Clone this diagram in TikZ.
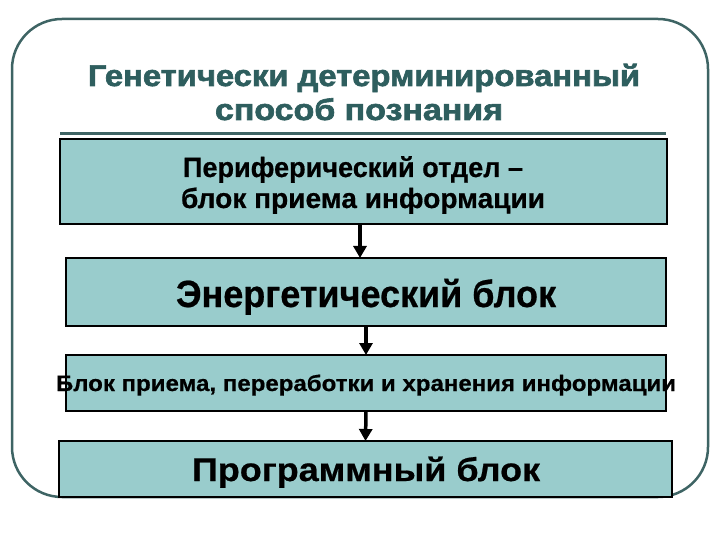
\documentclass[tikz,border=0pt]{standalone}
\usepackage{fontspec}
\setmainfont{Liberation Sans}
\newfontfamily\ttlfont[FakeBold=2]{Liberation Sans Bold}
\newfontfamily\blkfont[FakeBold=0.6]{Liberation Sans Bold}
\usepackage{graphicx}
\usetikzlibrary{arrows.meta}
\definecolor{titlecol}{HTML}{2E5E5E}
\definecolor{framecol}{HTML}{3E6464}
\definecolor{boxfill}{HTML}{99CCCC}
\newcommand\fitw[2]{\resizebox{#1bp}{\height}{#2}}
\tikzset{
  frame/.style={draw=framecol, line width=2.5bp, rounded corners=50bp},
  blockbox/.style={draw=black, line width=1.2bp, fill=boxfill, inner sep=0pt, outer sep=0pt},
  txt/.style={anchor=base, inner sep=0pt},
  arr/.style={line width=3.5bp, -{Triangle[width=13bp,length=12bp]}},
}
\begin{document}
\begin{tikzpicture}[x=1bp,y=-1bp]
\useasboundingbox (0,0) rectangle (720,540);
\fill[white] (0,0) rectangle (720,540);
% outer frame
\draw[frame] (12,19) rectangle (708,497);
% title
\node[txt, text=titlecol, font=\ttlfont\fontsize{30}{32}\selectfont] (t1) at (364,86) {\fitw{552}{Генетически детерминированный}};
\node[txt, text=titlecol, font=\ttlfont\fontsize{30}{32}\selectfont] (t2) at (359,120) {\fitw{288}{способ познания}};
\coordinate (ulA) at (60,134);
\coordinate (ulB) at (666,134);
\draw[framecol, line width=3bp] (ulA) -- (ulB);
% boxes
\node[blockbox, minimum width=607bp, minimum height=85bp] (b1) at (363.5,181.5) {};
\node[blockbox, minimum width=600bp, minimum height=68bp] (b2) at (366,292) {};
\node[blockbox, minimum width=600bp, minimum height=56bp] (b3) at (366,383) {};
\node[blockbox, minimum width=613bp, minimum height=56bp] (b4) at (365.5,469) {};
% texts
\node[txt, font=\blkfont\fontsize{28}{30}\selectfont] (l1a) at (353,177) {\fitw{340}{Периферический отдел –}};
\node[txt, font=\blkfont\fontsize{28}{30}\selectfont] (l1b) at (363,208) {\fitw{364}{блок приема информации}};
\node[txt, font=\blkfont\fontsize{38}{40}\selectfont] (l2) at (366,307) {\fitw{380}{Энергетический блок}};
\node[txt, font=\blkfont\fontsize{22.5}{25}\selectfont] (l3) at (366,391) {\fitw{620}{Блок приема, переработки и хранения информации}};
\node[txt, font=\blkfont\fontsize{33}{35}\selectfont] (l4) at (366,481) {\fitw{348}{Программный блок}};
% arrows
\draw[arr] ([xshift=-3.5bp]b1.south) -- ([xshift=-3.5bp]b1.south |- b2.north);
\draw[arr] (b2.south) -- (b3.north);
\draw[arr] (b3.south) -- (b4.north);
\end{tikzpicture}
\end{document}
